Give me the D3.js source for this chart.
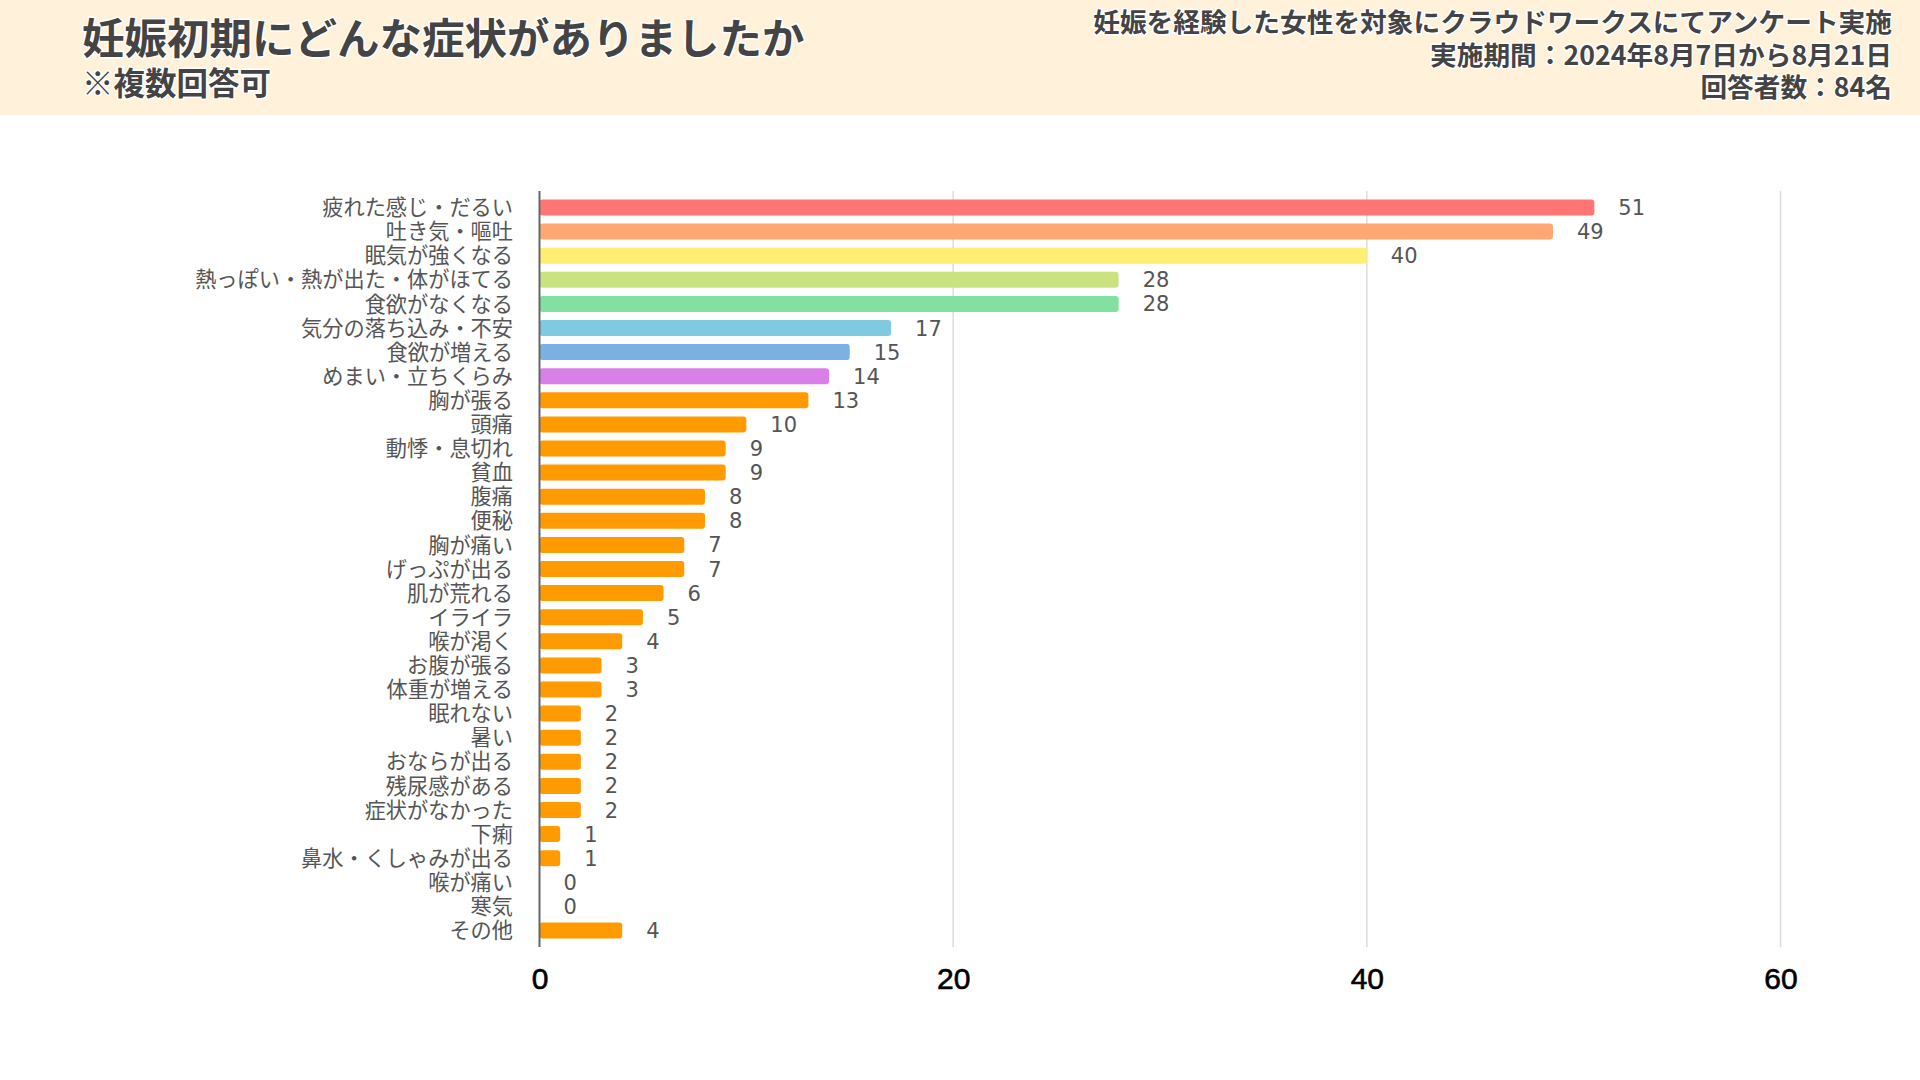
<!DOCTYPE html>
<html><head><meta charset="utf-8">
<script src="https://cdn.jsdelivr.net/npm/d3@7"></script>
<style>
html,body{margin:0;padding:0;background:#fff;}
svg{display:block;}
</style></head>
<body>
<svg id="chart" width="1920" height="1080"></svg>
<script>
const categories = ["疲れた感じ・だるい","吐き気・嘔吐","眠気が強くなる","熱っぽい・熱が出た・体がほてる","食欲がなくなる","気分の落ち込み・不安","食欲が増える","めまい・立ちくらみ","胸が張る","頭痛","動悸・息切れ","貧血","腹痛","便秘","胸が痛い","げっぷが出る","肌が荒れる","イライラ","喉が渇く","お腹が張る","体重が増える","眠れない","暑い","おならが出る","残尿感がある","症状がなかった","下痢","鼻水・くしゃみが出る","喉が痛い","寒気","その他"];
const values = [51,49,40,28,28,17,15,14,13,10,9,9,8,8,7,7,6,5,4,3,3,2,2,2,2,2,1,1,0,0,4];
const barColors = ["#FF7474","#FFA873","#FFEE72","#C9E381","#83E0A0","#7FCAE1","#7DB0E2","#D880E8"];
const otherColor = "#FF9A00";
const xTicks = [0,20,40,60];
const title = "妊娠初期にどんな症状がありましたか";
const subtitle = "※複数回答可";
const notes = ["妊娠を経験した女性を対象にクラウドワークスにてアンケート実施","実施期間：2024年8月7日から8月21日","回答者数：84名"];

const svg = d3.select("#chart");
const jp = "'Noto Sans CJK JP','Noto Sans',sans-serif";

// header
svg.append("rect").attr("x",0).attr("y",0).attr("width",1920).attr("height",115).attr("fill","#FFF1DA");
const halo = s => s.attr("stroke","#fff").attr("stroke-width",3).attr("paint-order","stroke").attr("stroke-linejoin","round");
svg.append("text").attr("x",82).attr("y",54).attr("font-family",jp).attr("font-weight",700)
  .attr("font-size",42.5).attr("fill","#444").text(title).call(halo);
svg.append("text").attr("x",82).attr("y",95).attr("font-family",jp).attr("font-weight",700)
  .attr("font-size",31.5).attr("fill","#444").text(subtitle).call(halo);
svg.selectAll("text.note").data(notes).join("text").attr("class","note")
  .attr("x",1892).attr("y",(d,i)=>32+i*32.5).attr("text-anchor","end")
  .attr("font-family",jp).attr("font-weight",700).attr("font-size",26.7).attr("fill","#444")
  .text(d=>d).call(halo);

// scales
const x = d3.scaleLinear().domain([0,60]).range([539.5,1780.5]);
const y = d3.scaleBand().domain(categories).range([191,947]).paddingInner(0.336).paddingOuter(0.353);

// grid
svg.append("g").selectAll("line").data(xTicks.filter(t=>t>0)).join("line")
  .attr("x1",d=>x(d)).attr("x2",d=>x(d)).attr("y1",191).attr("y2",947)
  .attr("stroke","#dcdcdc").attr("stroke-width",1.5);

// bars
const data = categories.map((c,i)=>({c, v:values[i], i}));
svg.append("g").selectAll("rect").data(data).join("rect")
  .attr("x",x(0)).attr("y",d=>y(d.c)).attr("width",d=>Math.max(0,x(d.v)-x(0)))
  .attr("height",y.bandwidth()).attr("rx",d=>d.v>0?3:0)
  .attr("fill",d=>d.i<barColors.length?barColors[d.i]:otherColor);

// axis line at 0
svg.append("line").attr("x1",x(0)).attr("x2",x(0)).attr("y1",191).attr("y2",947)
  .attr("stroke","#666").attr("stroke-width",2);

// category labels
svg.append("g").selectAll("text").data(data).join("text")
  .attr("x",513).attr("y",d=>y(d.c)+y.bandwidth()/2).attr("dy","0.36em")
  .attr("text-anchor","end").attr("font-family",jp).attr("font-size",21.2).attr("fill","#555")
  .text(d=>d.c);

// value labels
svg.append("g").selectAll("text").data(data).join("text")
  .attr("x",d=>x(d.v)+24).attr("y",d=>y(d.c)+y.bandwidth()/2).attr("dy","0.36em")
  .attr("font-family","'DejaVu Sans',sans-serif").attr("font-size",21).attr("fill","#555")
  .text(d=>d.v);

// x axis tick labels
const xAxis = d3.axisBottom(x).tickValues(xTicks).tickSize(0).tickPadding(0);
const gx = svg.append("g").attr("transform","translate(0,968)").call(xAxis);
gx.select(".domain").remove();
gx.selectAll("text").attr("font-family","'Liberation Sans',Arial,sans-serif").attr("font-size",30)
  .attr("fill","#000").attr("stroke","#000").attr("stroke-width",0.6).attr("dy","0.71em");
</script>
</body></html>
